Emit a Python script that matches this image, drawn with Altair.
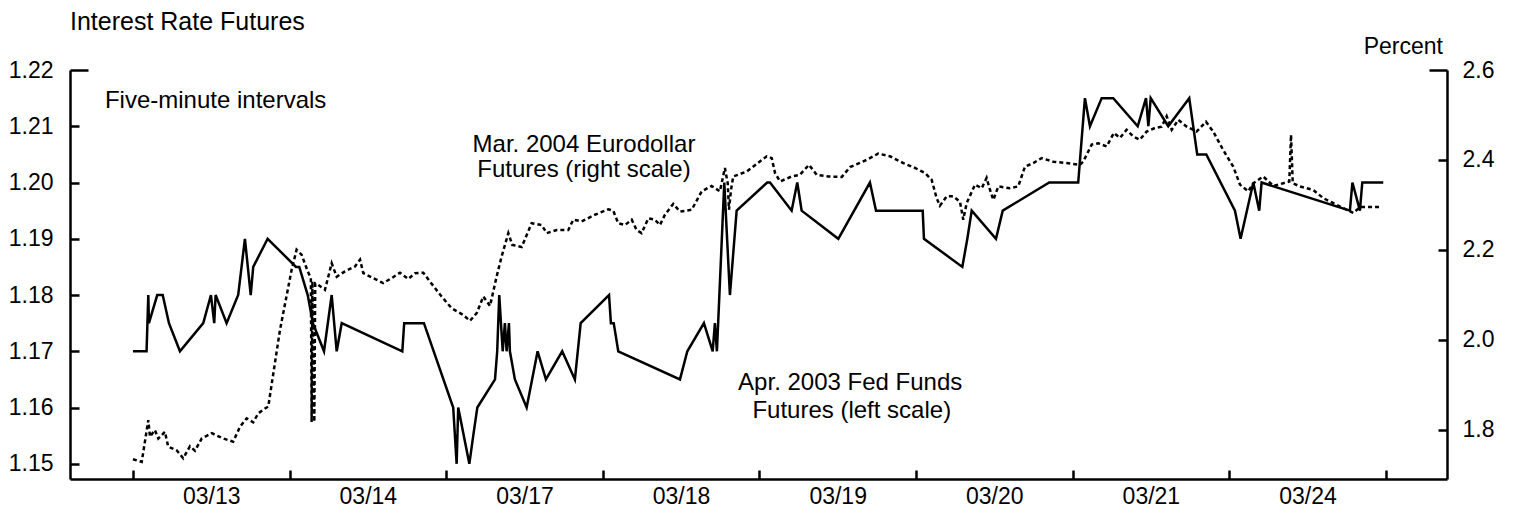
import json
import altair as alt
import pandas as pd

# ---------------- data ----------------
# x is a trading-day index: 0 = start of 03/13, 1 = start of 03/14, ...
day_ticks = [0, 1, 2, 3, 4, 5, 6, 7, 8]
day_labels = ["03/13", "03/14", "03/17", "03/18", "03/19", "03/20", "03/21", "03/24"]
label_pos = [0.5, 1.5, 2.5, 3.5, 4.5, 5.5, 6.5, 7.5]

# Apr. 2003 Fed Funds futures (left scale)
ff_day = [0.00, 0.087, 0.098, 0.102, 0.155, 0.190, 0.230, 0.300, 0.449, 0.498,
          0.519, 0.528, 0.598, 0.672, 0.715, 0.752, 0.768, 0.860, 1.041, 1.062,
          1.116, 1.149, 1.220, 1.269, 1.301, 1.333, 1.720, 1.732, 1.858, 2.045,
          2.067, 2.077, 2.148, 2.173, 2.199, 2.312, 2.326, 2.339, 2.361, 2.375,
          2.386, 2.401, 2.407, 2.439, 2.514, 2.584, 2.637, 2.741, 2.822, 2.859,
          3.040, 3.052, 3.070, 3.099, 3.493, 3.540, 3.646, 3.702, 3.716, 3.729,
          3.776, 3.812, 3.855, 4.050, 4.068, 4.206, 4.242, 4.270, 4.504, 4.706,
          4.745, 5.043, 5.051, 5.296, 5.328, 5.356, 5.511, 5.554, 5.851, 6.036,
          6.079, 6.111, 6.186, 6.260, 6.416, 6.469, 6.484, 6.499, 6.611, 6.745,
          6.796, 6.854, 7.037, 7.073, 7.154, 7.192, 7.207, 7.771, 7.787, 7.835,
          7.850, 7.984]
ff_val = [1.170, 1.170, 1.180, 1.175, 1.180, 1.180, 1.175, 1.170, 1.175, 1.180,
          1.175, 1.180, 1.175, 1.180, 1.190, 1.180, 1.185, 1.190, 1.185, 1.185,
          1.180, 1.175, 1.170, 1.180, 1.170, 1.175, 1.170, 1.175, 1.175, 1.160,
          1.150, 1.160, 1.150, 1.155, 1.160, 1.165, 1.170, 1.180, 1.170, 1.175,
          1.170, 1.175, 1.170, 1.165, 1.160, 1.170, 1.165, 1.170, 1.165, 1.175,
          1.180, 1.175, 1.175, 1.170, 1.165, 1.170, 1.175, 1.170, 1.175, 1.170,
          1.200, 1.180, 1.195, 1.200, 1.200, 1.195, 1.200, 1.195, 1.190, 1.200,
          1.195, 1.195, 1.190, 1.185, 1.190, 1.195, 1.190, 1.195, 1.200, 1.200,
          1.215, 1.210, 1.215, 1.215, 1.210, 1.215, 1.210, 1.215, 1.210, 1.215,
          1.205, 1.205, 1.195, 1.190, 1.200, 1.195, 1.200, 1.195, 1.200, 1.195,
          1.200, 1.200]

# Mar. 2004 Eurodollar futures (right scale, percent)
ed_day = [0.000, 0.056, 0.098, 0.109, 0.140, 0.162, 0.204, 0.225, 0.279, 0.321,
          0.364, 0.396, 0.439, 0.503, 0.577, 0.640, 0.683, 0.726, 0.768, 0.800,
          0.843, 0.864, 0.939, 1.013, 1.045, 1.077, 1.116, 1.136, 1.141, 1.146,
          1.158, 1.164, 1.183, 1.226, 1.269, 1.301, 1.354, 1.418, 1.450, 1.471,
          1.534, 1.598, 1.652, 1.705, 1.758, 1.801, 1.854, 1.897, 1.971, 2.035,
          2.109, 2.152, 2.195, 2.237, 2.280, 2.322, 2.354, 2.397, 2.422, 2.482,
          2.546, 2.610, 2.642, 2.706, 2.780, 2.812, 2.865, 2.950, 3.035, 3.067,
          3.099, 3.142, 3.185, 3.216, 3.248, 3.291, 3.333, 3.365, 3.397, 3.450,
          3.493, 3.568, 3.632, 3.695, 3.748, 3.780, 3.798, 3.806, 3.819, 3.833,
          3.919, 4.047, 4.079, 4.100, 4.132, 4.206, 4.259, 4.317, 4.366, 4.440,
          4.526, 4.579, 4.685, 4.759, 4.834, 4.919, 4.994, 5.057, 5.100, 5.132,
          5.153, 5.196, 5.238, 5.281, 5.302, 5.324, 5.377, 5.420, 5.451, 5.473,
          5.494, 5.526, 5.600, 5.653, 5.696, 5.749, 5.803, 5.877, 5.962, 6.047,
          6.068, 6.122, 6.164, 6.218, 6.264, 6.303, 6.345, 6.388, 6.430, 6.473,
          6.526, 6.569, 6.601, 6.633, 6.675, 6.729, 6.792, 6.852, 6.898, 6.962,
          7.026, 7.069, 7.122, 7.154, 7.218, 7.282, 7.345, 7.384, 7.395, 7.406,
          7.452, 7.537, 7.601, 7.686, 7.793, 7.835, 7.974]
ed_val = [1.734, 1.728, 1.821, 1.784, 1.799, 1.780, 1.795, 1.762, 1.754, 1.736,
          1.763, 1.753, 1.780, 1.792, 1.780, 1.773, 1.806, 1.825, 1.816, 1.836,
          1.847, 1.851, 2.022, 2.155, 2.200, 2.189, 2.152, 2.137, 1.817, 2.130,
          1.817, 2.125, 2.122, 2.111, 2.170, 2.140, 2.152, 2.163, 2.178, 2.148,
          2.137, 2.126, 2.137, 2.149, 2.135, 2.148, 2.149, 2.129, 2.096, 2.070,
          2.055, 2.042, 2.059, 2.096, 2.075, 2.140, 2.185, 2.237, 2.211, 2.206,
          2.259, 2.255, 2.237, 2.244, 2.244, 2.267, 2.263, 2.278, 2.290, 2.287,
          2.259, 2.255, 2.267, 2.244, 2.237, 2.270, 2.267, 2.255, 2.278, 2.302,
          2.285, 2.289, 2.330, 2.342, 2.330, 2.382, 2.348, 2.289, 2.333, 2.363,
          2.374, 2.408, 2.404, 2.371, 2.352, 2.363, 2.367, 2.389, 2.367, 2.363,
          2.362, 2.384, 2.400, 2.414, 2.408, 2.393, 2.382, 2.371, 2.356, 2.315,
          2.298, 2.319, 2.319, 2.307, 2.267, 2.304, 2.345, 2.337, 2.360, 2.333,
          2.311, 2.341, 2.337, 2.341, 2.385, 2.393, 2.404, 2.396, 2.393, 2.389,
          2.396, 2.434, 2.437, 2.430, 2.460, 2.449, 2.467, 2.452, 2.445, 2.463,
          2.471, 2.474, 2.497, 2.467, 2.489, 2.474, 2.463, 2.485, 2.463, 2.422,
          2.385, 2.345, 2.330, 2.348, 2.363, 2.342, 2.348, 2.352, 2.456, 2.348,
          2.341, 2.333, 2.315, 2.300, 2.282, 2.295, 2.295]

left_ticks = [1.15, 1.16, 1.17, 1.18, 1.19, 1.20, 1.21, 1.22]
right_ticks = [1.8, 2.0, 2.2, 2.4, 2.6]

# annotation texts (positions in day index / left-scale units)
title_text = ["Interest Rate Futures"]
title_x = [-0.402]
title_y = [1.22717]
note_text = ["Five-minute intervals"]
note_x = [-0.179]
note_y = [1.2133]
series_text = ["Mar. 2004 Eurodollar", "Futures (right scale)",
               "Apr. 2003 Fed Funds", "Futures (left scale)"]
series_x = [2.88, 2.88, 4.58, 4.59]
series_y = [1.2055, 1.2009, 1.1631, 1.1581]
unit_text = ["Percent"]
unit_x = [8.365]
unit_y = [1.2229]

# ---------------- layout / style ----------------
W, H = 1377, 409
X_DOMAIN = [-0.402, 8.391]
LEFT_DOMAIN = [1.1473, 1.22]
RIGHT_DOMAIN = [1.69, 2.6]
FONT = "Liberation Sans"

xscale = alt.Scale(domain=X_DOMAIN, zero=False, nice=False)
lscale = alt.Scale(domain=LEFT_DOMAIN, zero=False, nice=False)
rscale = alt.Scale(domain=RIGHT_DOMAIN, zero=False, nice=False)

ff_df = pd.DataFrame({"day": ff_day, "val": ff_val})
ed_df = pd.DataFrame({"day": ed_day, "val": ed_val})

label_expr = json.dumps(day_labels) + "[floor(datum.value)]"

bottom_axis = alt.Axis(orient="bottom", values=label_pos, labelExpr=label_expr,
                       ticks=False, tickSize=0, domain=True, domainColor="black",
                       domainWidth=2.5, grid=False, title=None, labelPadding=6,
                       labelFont=FONT, labelFontSize=23, labelColor="black")
tick_axis = alt.Axis(orient="top", offset=-H, values=day_ticks, labels=False,
                     domain=False, ticks=True, tickSize=9, tickWidth=2.5,
                     tickColor="black", grid=False, title=None)

left_axis = alt.Axis(
    orient="right", offset=-W, values=left_ticks, format=".2f", title=None,
    grid=False, domainColor="black", domainWidth=2.5, tickColor="black",
    tickWidth=2.5,
    tickSize={"condition": {"test": "datum.value > 1.215", "value": 18}, "value": 9},
    labelPadding={"condition": {"test": "datum.value > 1.215", "value": -35}, "value": -26},
    labelAlign="right", labelBaseline="middle", labelFont=FONT,
    labelFontSize=23, labelColor="black")
right_axis = alt.Axis(
    orient="left", offset=-W, values=right_ticks, format=".1f", title=None,
    grid=False, domainColor="black", domainWidth=2.5, tickColor="black",
    tickWidth=2.5,
    tickSize={"condition": {"test": "datum.value > 2.55", "value": 18}, "value": 9},
    labelPadding={"condition": {"test": "datum.value > 2.55", "value": -33}, "value": -24},
    labelAlign="left", labelBaseline="middle", labelFont=FONT,
    labelFontSize=23, labelColor="black")

solid = alt.Chart(ff_df).mark_line(color="black", strokeWidth=2.5).encode(
    x=alt.X("day:Q", scale=xscale, axis=bottom_axis),
    y=alt.Y("val:Q", scale=lscale, axis=left_axis),
)
dashed = alt.Chart(ed_df).mark_line(color="black", strokeWidth=2.5,
                                    strokeDash=[4, 3]).encode(
    x=alt.X("day:Q", scale=xscale, axis=tick_axis),
    y=alt.Y("val:Q", scale=rscale, axis=right_axis),
)


def text_layer(texts, xs, ys, align, size):
    df = pd.DataFrame({"t": texts, "x": xs, "y": ys})
    return alt.Chart(df).mark_text(align=align, baseline="alphabetic", font=FONT,
                                   fontSize=size, color="black").encode(
        x=alt.X("x:Q", scale=xscale, axis=None),
        y=alt.Y("y:Q", scale=lscale, axis=None),
        text="t:N",
    )


t_title = text_layer(title_text, title_x, title_y, "left", 25)
t_note = text_layer(note_text, note_x, note_y, "left", 24)
t_series = text_layer(series_text, series_x, series_y, "center", 24)
t_unit = text_layer(unit_text, unit_x, unit_y, "right", 23)

chart = alt.layer(solid, dashed, t_title, t_note, t_series, t_unit).resolve_scale(
    y="independent"
).resolve_axis(
    x="independent"
).properties(
    width=W, height=H,
    autosize=alt.AutoSizeParams(type="none"),
    padding={"left": 62, "top": 62, "right": 51, "bottom": 33},
    background="white",
).configure_view(stroke=None)

chart.save("out.html", embed_options={"renderer": "svg", "actions": False})
